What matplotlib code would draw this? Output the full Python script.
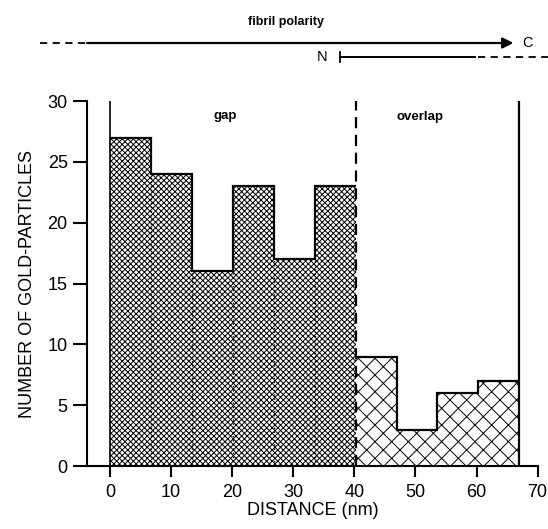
import matplotlib
matplotlib.use("Agg")
import matplotlib.pyplot as plt
from matplotlib.lines import Line2D
import numpy as np

# histogram over one D-period (67 nm), 10 bins
gap_edges = [0, 6.7, 13.4, 20.1, 26.8, 33.5, 40.2]
gap_counts = [27, 24, 16, 23, 17, 23]
overlap_edges = [40.2, 46.9, 53.6, 60.3, 67.0]
overlap_counts = [9, 3, 6, 7]

x_ticks = [0, 10, 20, 30, 40, 50, 60, 70]
y_ticks = [0, 5, 10, 15, 20, 25, 30]

plt.rcParams['font.family'] = ['Liberation Sans', 'DejaVu Sans']
plt.rcParams['hatch.linewidth'] = 0.7

fig = plt.figure(figsize=(5.48, 5.29), dpi=100)
ax = fig.add_axes([0.159, 0.119, 0.822, 0.690])

# filled bars
ax.bar(gap_edges[:-1], gap_counts, width=np.diff(gap_edges), align='edge',
       color='white', edgecolor='black', linewidth=0, hatch='xxxxxx')
ax.bar(overlap_edges[:-1], overlap_counts, width=np.diff(overlap_edges), align='edge',
       color='white', edgecolor='black', linewidth=0, hatch='xx')

# outlines
ax.stairs(gap_counts, gap_edges, baseline=None, color='black', lw=1.6)
ax.stairs(overlap_counts, overlap_edges, baseline=None, color='black', lw=1.6)

# dotted separators inside the gap region
inner = gap_edges[1:-1]
low = [min(gap_counts[i], gap_counts[i + 1]) for i in range(len(inner))]
ax.vlines(inner, 0, low, colors='black', linestyles=(0, (1, 2)), lw=1.0)

# region boundaries
ax.vlines(0, 0, 30, colors='black', lw=1.2)
ax.vlines(gap_edges[-1], 0, 30, colors='black', linestyles=(0, (5, 3)), lw=1.6)
ax.vlines(overlap_edges[-1], 0, 30, colors='black', lw=1.6)

ax.text(18.8, 28.8, 'gap', ha='center', va='center', fontsize=9.5, fontweight='bold')
ax.text(50.8, 28.7, 'overlap', ha='center', va='center', fontsize=9.5, fontweight='bold')

ax.set_xlim(-3.76, 70)
ax.set_ylim(0, 30)
ax.set_xticks(x_ticks)
ax.set_yticks(y_ticks)
ax.spines['top'].set_visible(False)
ax.spines['right'].set_visible(False)
ax.spines['left'].set_linewidth(1.5)
ax.spines['bottom'].set_linewidth(1.5)
ax.tick_params(axis='y', direction='out', length=10, width=1.5, labelsize=13, pad=4)
ax.tick_params(axis='x', direction='out', length=8, width=1.5, labelsize=13, pad=5)
ax.set_xlabel('DISTANCE (nm)', fontsize=13, labelpad=1)
ax.set_ylabel('NUMBER OF GOLD-PARTICLES', fontsize=13, labelpad=8)

# fibril polarity arrows on top
fig.text(0.522, 0.958, 'fibril polarity', ha='center', va='center', fontsize=9, fontweight='bold')
y1 = 1 - 43 / 529
fig.add_artist(Line2D([0.073, 0.159], [y1, y1], color='black', lw=1.3, ls=(0, (4, 3))))
ax.annotate('', xy=(0.937, y1), xytext=(0.159, y1), xycoords='figure fraction',
            textcoords='figure fraction',
            arrowprops=dict(arrowstyle='-|>', lw=1.6, color='black', mutation_scale=16,
                            shrinkA=0, shrinkB=0))
fig.text(0.962, y1, 'C', ha='center', va='center', fontsize=10.5)

y2 = 1 - 57 / 529
fig.text(0.588, y2, 'N', ha='center', va='center', fontsize=10.5)
fig.add_artist(Line2D([0.620, 0.620], [y2 - 0.01, y2 + 0.01], color='black', lw=1.3))
fig.add_artist(Line2D([0.620, 0.866], [y2, y2], color='black', lw=1.4))
fig.add_artist(Line2D([0.872, 1.0], [y2, y2], color='black', lw=1.3, ls=(0, (4, 3))))

fig.savefig('out.png', dpi=100)
